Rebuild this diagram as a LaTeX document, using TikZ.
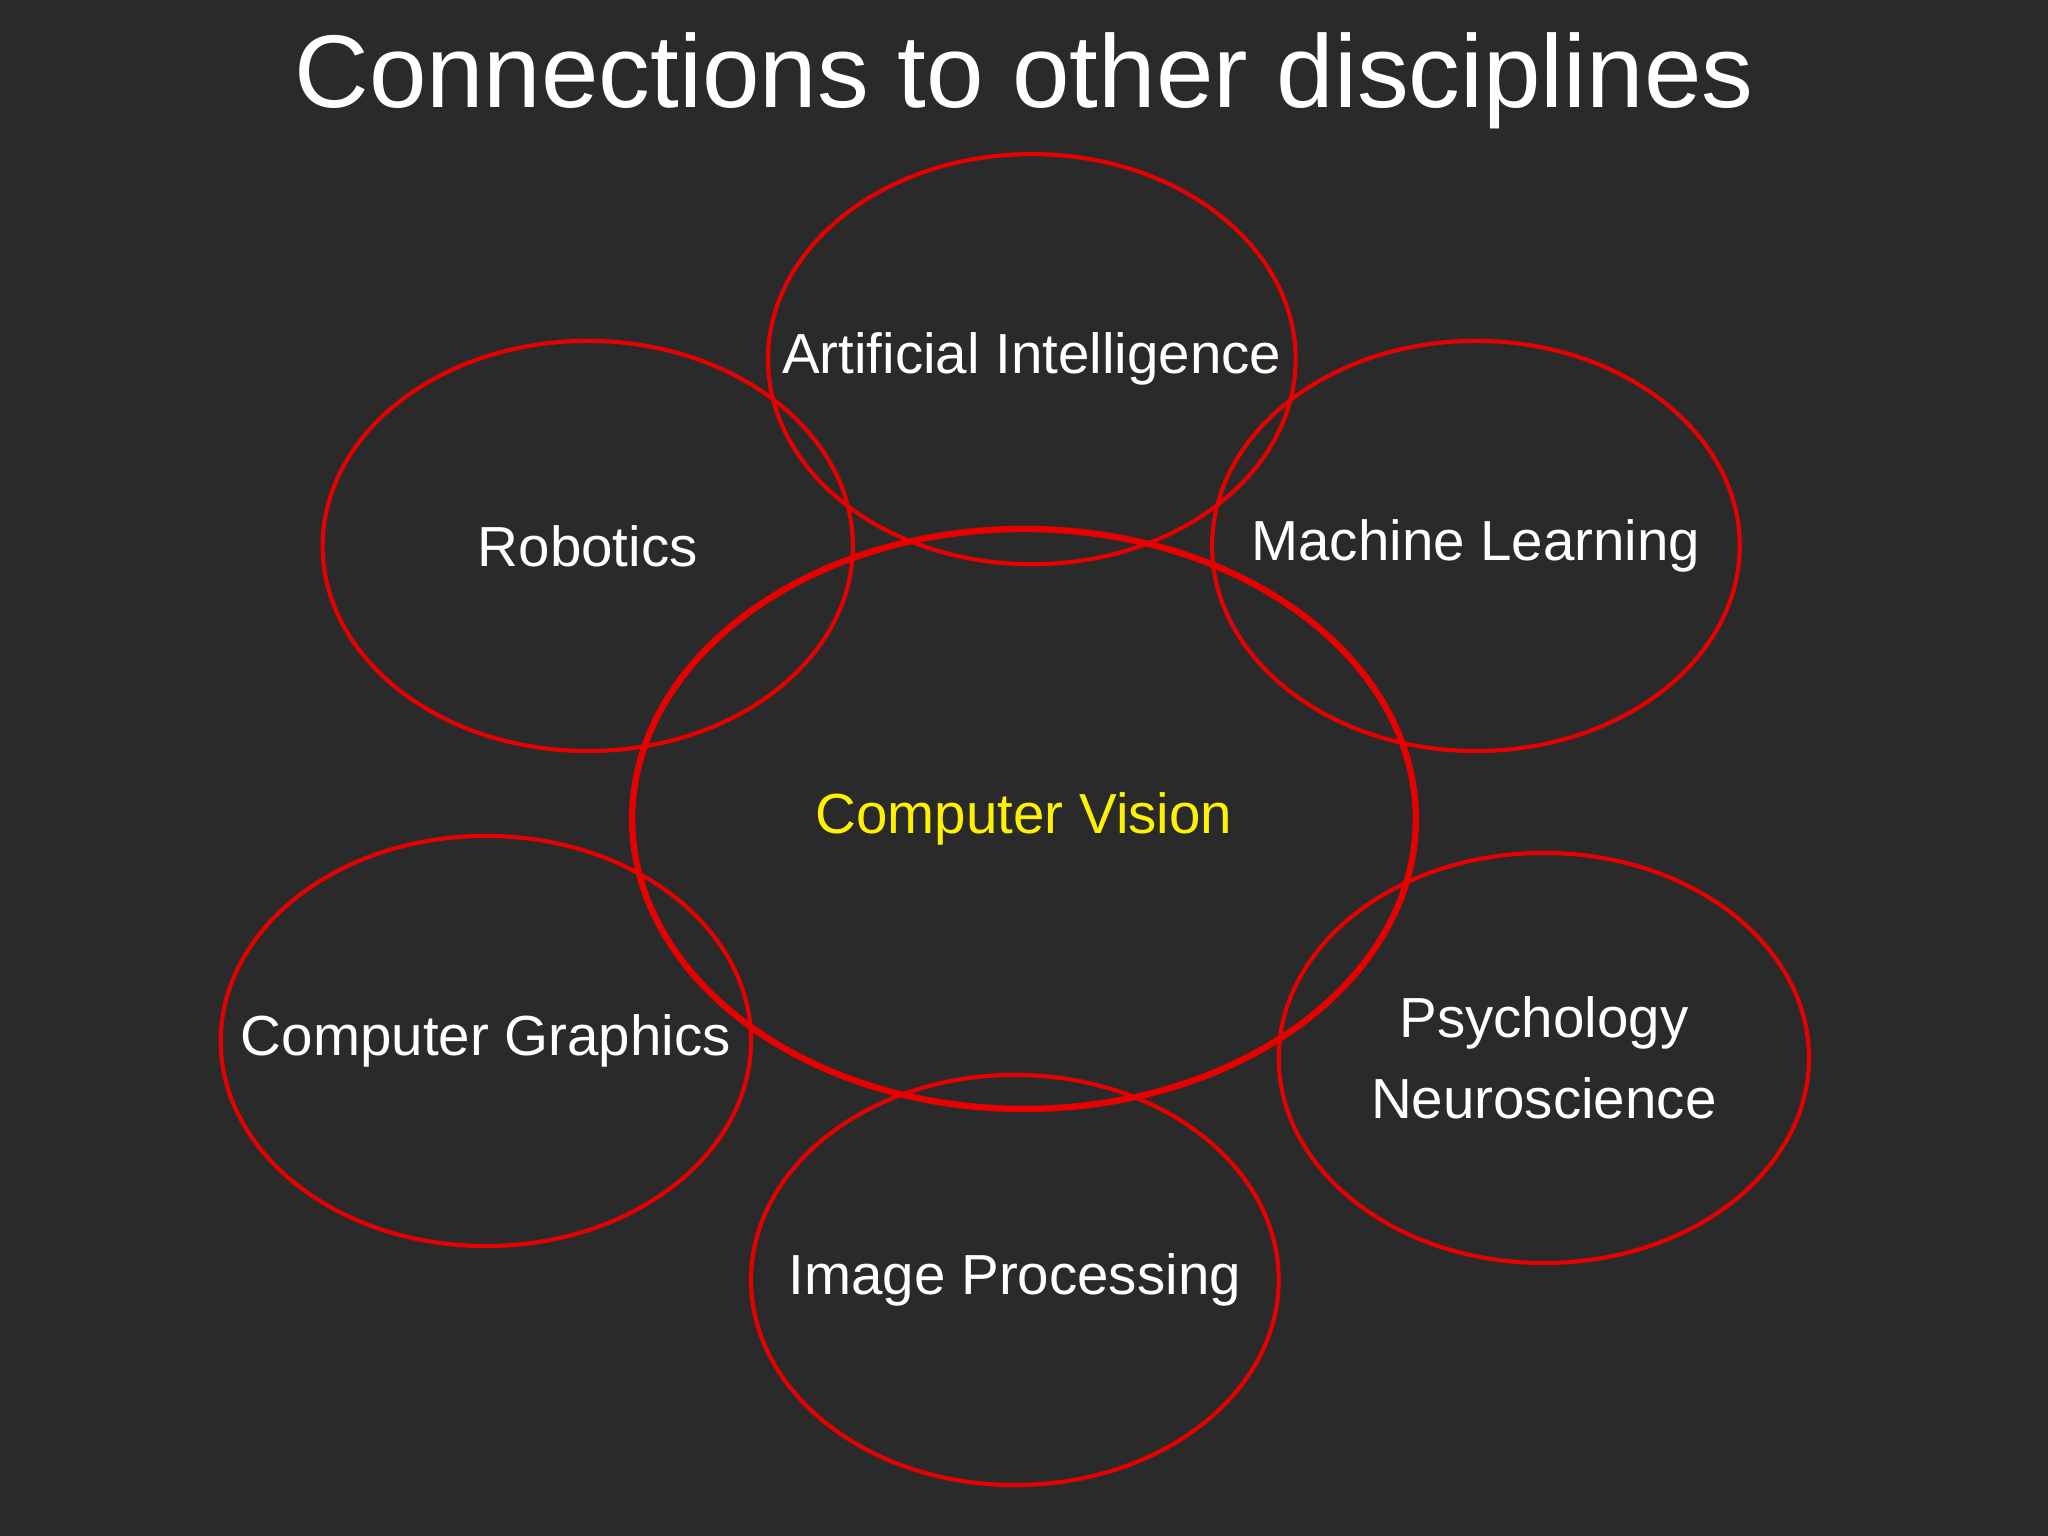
\documentclass[tikz,border=0pt]{standalone}
\usepackage{fontspec}
\setmainfont{Liberation Sans}
\usetikzlibrary{shapes.geometric}
\definecolor{bg}{HTML}{2A2A2B}
\definecolor{ring}{HTML}{E60000}
\begin{document}
\begin{tikzpicture}[x=0.01cm,y=-0.01cm,
  circ/.style={draw=ring,line width=0.9pt},
  lbl/.style={text=white,font=\fontsize{12.3}{15}\selectfont,align=center}]
\fill[bg] (0,0) rectangle (1568,1176);
\useasboundingbox (0,0) rectangle (1568,1176);
\node[text=white,font=\fontsize{22.5}{27}\selectfont] (title) at (784,62) {Connections to other disciplines};
\draw[circ] (790,275) ellipse [x radius=202,y radius=157];
\draw[circ] (450,418) ellipse [x radius=203,y radius=157];
\draw[circ] (1130,418) ellipse [x radius=202,y radius=157];
\draw[circ,line width=1.4pt] (784,627) ellipse [x radius=300,y radius=222];
\draw[circ] (372,797) ellipse [x radius=203,y radius=157];
\draw[circ] (1182,810) ellipse [x radius=203,y radius=157];
\draw[circ] (777,980) ellipse [x radius=202,y radius=157];
\node[lbl] (ai) at (790,275) {Artificial Intelligence};
\node[lbl] (rob) at (450,418) {Robotics};
\node[lbl] (ml) at (1130,418) {Machine Learning};
\node[lbl,text=yellow] (cv) at (784,627) {Computer Vision};
\node[lbl] (cg) at (372,797) {Computer Graphics};
\node[lbl,font=\fontsize{12.3}{17.5}\selectfont] (ps) at (1182,810) {Psychology\\Neuroscience};
\node[lbl] (ip) at (777,980) {Image Processing};
\end{tikzpicture}
\end{document}
